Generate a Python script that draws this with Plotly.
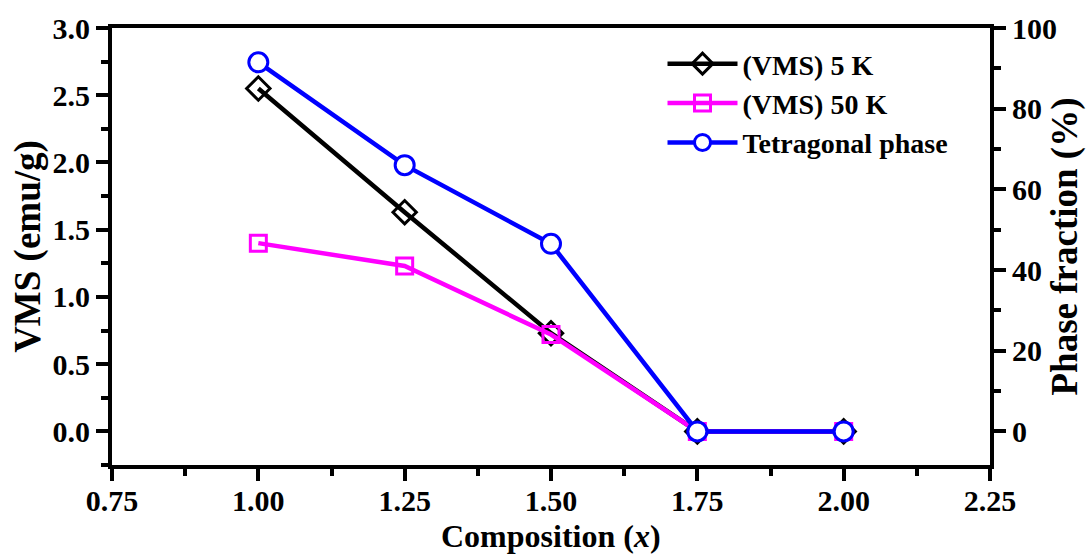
import plotly.graph_objects as go

composition = [1.00, 1.25, 1.50, 1.75, 2.00]
vms_5k = [2.55, 1.63, 0.73, 0.0, 0.0]
vms_50k = [1.40, 1.23, 0.72, 0.0, 0.0]
tetragonal = [91.5, 66.0, 46.5, 0.0, 0.0]

x_ticks = [0.75, 1.0, 1.25, 1.5, 1.75, 2.0, 2.25]
y_ticks = [0, 0.5, 1.0, 1.5, 2.0, 2.5, 3.0]
y2_ticks = [0, 20, 40, 60, 80, 100]

FONT = "Liberation Serif"

fig = go.Figure()
fig.add_trace(go.Scatter(
    x=composition, y=vms_5k, name="<b>(VMS) 5 K</b>", mode="lines+markers",
    line=dict(color="black", width=4.5),
    marker=dict(symbol="diamond-open", size=18, color="black", line=dict(width=3, color="black")),
))
fig.add_trace(go.Scatter(
    x=composition, y=vms_50k, name="<b>(VMS) 50 K</b>", mode="lines+markers",
    line=dict(color="#FF00FF", width=4.5),
    marker=dict(symbol="square-open", size=16, color="#FF00FF", line=dict(width=3, color="#FF00FF")),
))
fig.add_trace(go.Scatter(
    x=composition, y=tetragonal, name="<b>Tetragonal phase</b>", mode="lines+markers",
    yaxis="y2",
    line=dict(color="#0000FF", width=4.5),
    marker=dict(symbol="circle", size=19, color="white", line=dict(width=3, color="#0000FF")),
))


def axis_common():
    return dict(
        showline=True, linecolor="black", linewidth=4,
        ticks="outside", ticklen=12, tickwidth=4, tickcolor="black",
        showgrid=False, zeroline=False, automargin=False,
        tickfont=dict(family=FONT, size=30, color="black", weight="bold"),
    )


def minor(dtick, tick0):
    return dict(dtick=dtick, tick0=tick0, ticks="outside", ticklen=7, tickwidth=4, tickcolor="black")


fig.update_layout(
    width=1086, height=559,
    paper_bgcolor="white", plot_bgcolor="white",
    margin=dict(l=112, r=96, t=28, b=94),
    font=dict(family=FONT, color="black"),
    xaxis=dict(
        **axis_common(), range=[0.75, 2.25], tickvals=x_ticks,
        ticktext=["<b>%.2f</b>" % v for v in x_ticks],
        mirror=True, minor=minor(0.125, 0.75), ticklabelstandoff=-6,
    ),
    yaxis=dict(
        **axis_common(), range=[-0.25, 3.0], tickvals=y_ticks,
        ticktext=["<b>%.1f</b>" % v for v in y_ticks],
        minor=minor(0.25, 0),
        title=dict(text="<b>VMS (emu/g)</b>",
                   font=dict(family=FONT, size=37, color="black"), standoff=2),
    ),
    yaxis2=dict(
        **axis_common(), overlaying="y", side="right", range=[-100/12, 100],
        tickvals=y2_ticks, ticktext=["<b>%d</b>" % v for v in y2_ticks],
        minor=minor(10, 0),
        title=dict(text="<b>Phase fraction (%)</b>",
                   font=dict(family=FONT, size=37, color="black"), standoff=2),
    ),
    legend=dict(
        x=0.627, y=0.975, xanchor="left", yanchor="top",
        bgcolor="rgba(0,0,0,0)", borderwidth=0,
        font=dict(family=FONT, size=28, color="black"),
        itemwidth=70, tracegroupgap=0,
    ),
    annotations=[dict(
        text="<b>Composition (<i>x</i>)</b>", xref="paper", yref="paper",
        x=0.5, y=-0.163, xanchor="center", yanchor="middle", showarrow=False,
        font=dict(family=FONT, size=32, color="black"),
    )],
    showlegend=True,
)

fig.write_html("out.html")
